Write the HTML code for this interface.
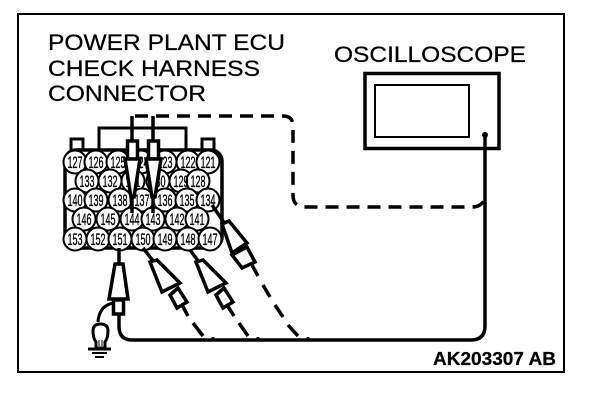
<!DOCTYPE html>
<html><head><meta charset="utf-8"><style>
html,body{margin:0;padding:0;background:#fff}
svg{display:block}
text{font-family:"Liberation Sans",sans-serif;fill:#000}
.n text{font-size:17px;text-anchor:middle;stroke:#000;stroke-width:.35px}
.t text{stroke:#000;stroke-width:.25px}
</style></head><body>
<svg width="608" height="404" viewBox="0 0 608 404" xmlns="http://www.w3.org/2000/svg">
<rect x="18" y="14" width="546" height="358" fill="#fff" stroke="#000" stroke-width="2"/>
<g class="t">
<text x="48" y="50" font-size="22" textLength="237" lengthAdjust="spacingAndGlyphs">POWER PLANT ECU</text>
<text x="48" y="76" font-size="22" textLength="212" lengthAdjust="spacingAndGlyphs">CHECK HARNESS</text>
<text x="48" y="101" font-size="22" textLength="158" lengthAdjust="spacingAndGlyphs">CONNECTOR</text>
<text x="334" y="62" font-size="22" textLength="192" lengthAdjust="spacingAndGlyphs">OSCILLOSCOPE</text>
<text x="433" y="365" font-size="18" font-weight="bold" textLength="123" lengthAdjust="spacingAndGlyphs">AK203307 AB</text>
</g>

<!-- oscilloscope -->
<rect x="365" y="73.500" width="134" height="75" fill="#fff" stroke="#000" stroke-width="3.500"/>
<rect x="375" y="85" width="94" height="52" fill="#fff" stroke="#000" stroke-width="2"/>
<circle cx="485" cy="135" r="3" fill="#000"/>

<!-- wires -->
<path d="M485 135V326Q485 340 471 340H132Q119 340 119 326V312" fill="none" stroke="#000" stroke-width="3.500"/>
<path d="M135 116H283Q293 116 293 126V195Q293 207 305 207H472Q482 207 485 198" fill="none" stroke="#000" stroke-width="3.500" stroke-dasharray="13 8"/>
<path d="M193 323L203 336M239 323L248 336M263 285L270 297M275 305L283 317M288 325L298 336" fill="none" stroke="#000" stroke-width="3.500"/>

<!-- connector -->
<path d="M71 150V139H83V150M202 150V139H214V150" fill="#fff" stroke="#000" stroke-width="3"/>
<path d="M99 150V128H186V150" fill="#fff" stroke="#000" stroke-width="3"/>
<rect x="65" y="150" width="157" height="98" rx="11" fill="#fff" stroke="#000" stroke-width="3.500"/>
<g class="n" fill="#fff" stroke="#000" stroke-width="2">
<ellipse cx="75" cy="162" rx="11.500" ry="11.500"/><ellipse cx="96" cy="162" rx="11.500" ry="11.500"/><ellipse cx="118" cy="162" rx="11.500" ry="11.500"/><ellipse cx="141" cy="162" rx="11.500" ry="11.500"/><ellipse cx="165" cy="162" rx="11.500" ry="11.500"/><ellipse cx="188" cy="162" rx="11.500" ry="11.500"/><ellipse cx="208" cy="162" rx="11.500" ry="11.500"/>
<ellipse cx="87" cy="181" rx="11.500" ry="11.500"/><ellipse cx="110" cy="181" rx="11.500" ry="11.500"/><ellipse cx="133" cy="181" rx="11.500" ry="11.500"/><ellipse cx="158" cy="181" rx="11.500" ry="11.500"/><ellipse cx="181" cy="181" rx="11.500" ry="11.500"/><ellipse cx="198" cy="181" rx="11.500" ry="11.500"/>
<ellipse cx="75" cy="200" rx="11.500" ry="11.500"/><ellipse cx="96" cy="200" rx="11.500" ry="11.500"/><ellipse cx="120" cy="200" rx="11.500" ry="11.500"/><ellipse cx="142" cy="200" rx="11.500" ry="11.500"/><ellipse cx="165" cy="200" rx="11.500" ry="11.500"/><ellipse cx="187" cy="200" rx="11.500" ry="11.500"/><ellipse cx="208" cy="200" rx="11.500" ry="11.500"/>
<ellipse cx="84" cy="219" rx="11.500" ry="11.500"/><ellipse cx="108" cy="219" rx="11.500" ry="11.500"/><ellipse cx="132" cy="219" rx="11.500" ry="11.500"/><ellipse cx="153" cy="219" rx="11.500" ry="11.500"/><ellipse cx="177" cy="219" rx="11.500" ry="11.500"/><ellipse cx="197" cy="219" rx="11.500" ry="11.500"/>
<ellipse cx="75" cy="239" rx="11.500" ry="11.500"/><ellipse cx="98" cy="239" rx="11.500" ry="11.500"/><ellipse cx="120" cy="239" rx="11.500" ry="11.500"/><ellipse cx="143" cy="239" rx="11.500" ry="11.500"/><ellipse cx="165" cy="239" rx="11.500" ry="11.500"/><ellipse cx="188" cy="239" rx="11.500" ry="11.500"/><ellipse cx="210" cy="239" rx="11.500" ry="11.500"/>
</g>
<g class="n">
<text x="75" y="168" textLength="15" lengthAdjust="spacingAndGlyphs">127</text><text x="96" y="168" textLength="15" lengthAdjust="spacingAndGlyphs">126</text><text x="118" y="168" textLength="15" lengthAdjust="spacingAndGlyphs">125</text><text x="141" y="168" textLength="15" lengthAdjust="spacingAndGlyphs">124</text><text x="165" y="168" textLength="15" lengthAdjust="spacingAndGlyphs">123</text><text x="188" y="168" textLength="15" lengthAdjust="spacingAndGlyphs">122</text><text x="208" y="168" textLength="15" lengthAdjust="spacingAndGlyphs">121</text>
<text x="87" y="187" textLength="15" lengthAdjust="spacingAndGlyphs">133</text><text x="110" y="187" textLength="15" lengthAdjust="spacingAndGlyphs">132</text><text x="133" y="187" textLength="15" lengthAdjust="spacingAndGlyphs">131</text><text x="158" y="187" textLength="15" lengthAdjust="spacingAndGlyphs">130</text><text x="181" y="187" textLength="15" lengthAdjust="spacingAndGlyphs">129</text><text x="198" y="187" textLength="15" lengthAdjust="spacingAndGlyphs">128</text>
<text x="75" y="206" textLength="15" lengthAdjust="spacingAndGlyphs">140</text><text x="96" y="206" textLength="15" lengthAdjust="spacingAndGlyphs">139</text><text x="120" y="206" textLength="15" lengthAdjust="spacingAndGlyphs">138</text><text x="142" y="206" textLength="15" lengthAdjust="spacingAndGlyphs">137</text><text x="165" y="206" textLength="15" lengthAdjust="spacingAndGlyphs">136</text><text x="187" y="206" textLength="15" lengthAdjust="spacingAndGlyphs">135</text><text x="208" y="206" textLength="15" lengthAdjust="spacingAndGlyphs">134</text>
<text x="84" y="225" textLength="15" lengthAdjust="spacingAndGlyphs">146</text><text x="108" y="225" textLength="15" lengthAdjust="spacingAndGlyphs">145</text><text x="132" y="225" textLength="15" lengthAdjust="spacingAndGlyphs">144</text><text x="153" y="225" textLength="15" lengthAdjust="spacingAndGlyphs">143</text><text x="177" y="225" textLength="15" lengthAdjust="spacingAndGlyphs">142</text><text x="197" y="225" textLength="15" lengthAdjust="spacingAndGlyphs">141</text>
<text x="75" y="245" textLength="15" lengthAdjust="spacingAndGlyphs">153</text><text x="98" y="245" textLength="15" lengthAdjust="spacingAndGlyphs">152</text><text x="120" y="245" textLength="15" lengthAdjust="spacingAndGlyphs">151</text><text x="143" y="245" textLength="15" lengthAdjust="spacingAndGlyphs">150</text><text x="165" y="245" textLength="15" lengthAdjust="spacingAndGlyphs">149</text><text x="188" y="245" textLength="15" lengthAdjust="spacingAndGlyphs">148</text><text x="210" y="245" textLength="15" lengthAdjust="spacingAndGlyphs">147</text>
</g>

<!-- top probes -->
<g fill="#fff" stroke="#000" stroke-width="3.500">
<path d="M132 213V195M132 140V116M153 213V195M153 140V116" fill="none"/>
<rect x="127.500" y="141" width="10" height="18"/>
<rect x="148.500" y="141" width="10" height="18"/>
<path d="M125 159H140L134 197H131Z"/>
<path d="M146 159H161L155 197H152Z"/>
</g>

<!-- bottom probes -->
<g fill="#fff" stroke="#000" stroke-width="3.500">
<path d="M119 248V263" fill="none"/>
<path d="M115 264H123L128 299H109Z"/>
<rect x="113.500" y="300" width="10" height="14"/>
<path d="M143 248L154 262" fill="none"/>
<path d="M150 262L157 260L180 283L162 292Z"/>
<path d="M170 295L178 288L187 302L177 308Z"/>
<path d="M182 305L188 316" fill="none"/>
<path d="M190 250L199 262" fill="none"/>
<path d="M196 262L203 260L226 283L208 292Z"/>
<path d="M216 295L224 288L233 302L223 308Z"/>
<path d="M227 305L234 316" fill="none"/>
<path d="M212 205L225 224" fill="none"/>
<path d="M222 224L229 221L247 243L232 253Z"/>
<path d="M232 255L247 247L255 262L242 268Z"/>
<path d="M252 265L258 276" fill="none"/>
</g>
<circle cx="213" cy="339" r="2" fill="#000"/><circle cx="258" cy="339" r="2" fill="#000"/><circle cx="308" cy="339" r="2" fill="#000"/>

<!-- bulb -->
<path d="M113 303Q99 306 98 322" fill="none" stroke="#000" stroke-width="3"/>
<path d="M93 331Q93 324 100.500 324Q108 324 108 331Q108 338 105 342V348H96V342Q93 338 93 331Z" fill="#fff" stroke="#000" stroke-width="3"/>
<path d="M99 340V346M102 340V346" stroke="#000" stroke-width="1"/>
<path d="M88 349H111" stroke="#000" stroke-width="3"/>
<path d="M92 353H107M95 357H104" stroke="#000" stroke-width="2"/>
</svg>
</body></html>
